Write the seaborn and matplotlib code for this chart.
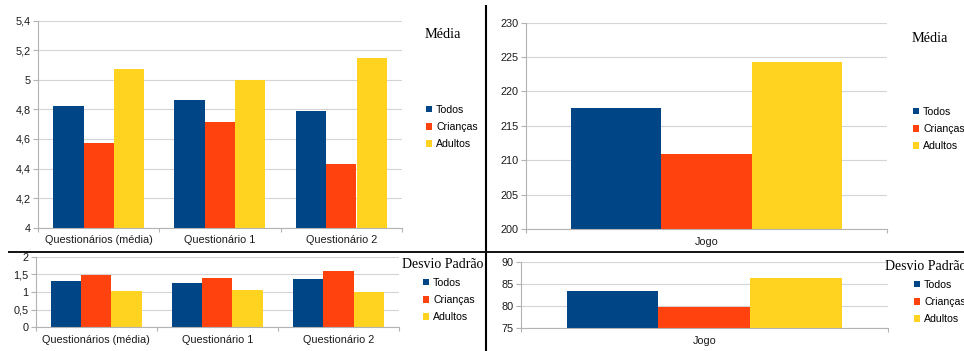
import matplotlib
matplotlib.use("Agg")
import matplotlib.pyplot as plt
import seaborn as sns
import pandas as pd
import numpy as np
from matplotlib.patches import Patch
from matplotlib.lines import Line2D

# ---------------- data ----------------
groups = ["Todos", "Crianças", "Adultos"]
group_colors = ["#004586", "#ff420e", "#ffd320"]

categories_q = ["Questionários (média)", "Questionário 1", "Questionário 2"]
media_q_todos = [4.825, 4.864, 4.789]
media_q_criancas = [4.575, 4.717, 4.433]
media_q_adultos = [5.073, 5.000, 5.146]
dp_q_todos = [1.31, 1.25, 1.38]
dp_q_criancas = [1.49, 1.39, 1.59]
dp_q_adultos = [1.03, 1.07, 0.99]

categories_j = ["Jogo"]
media_j_todos = [217.55]
media_j_criancas = [210.86]
media_j_adultos = [224.3]
dp_j_todos = [83.4]
dp_j_criancas = [79.86]
dp_j_adultos = [86.24]

yticks_media_q = [4.0, 4.2, 4.4, 4.6, 4.8, 5.0, 5.2, 5.4]
ylabels_media_q = ["4", "4,2", "4,4", "4,6", "4,8", "5", "5,2", "5,4"]
yticks_media_j = [200, 205, 210, 215, 220, 225, 230]
ylabels_media_j = ["200", "205", "210", "215", "220", "225", "230"]
yticks_dp_q = [0, 0.5, 1, 1.5, 2]
ylabels_dp_q = ["0", "0,5", "1", "1,5", "2"]
yticks_dp_j = [75, 80, 85, 90]
ylabels_dp_j = ["75", "80", "85", "90"]

title_media = "Média"
title_dp = "Desvio Padrão"

# ---------------- figure ----------------
W, H = 964, 351
plt.rcParams["font.family"] = ["Liberation Sans", "DejaVu Sans"]
fig = plt.figure(figsize=(W / 100, H / 100), dpi=100)
fig.patch.set_facecolor("white")


def fx(px):
    return px / W


def fy(py):
    return 1 - py / H


def make_df(cats, a, b, c):
    rows = []
    for g, vals in zip(groups, [a, b, c]):
        for cat, v in zip(cats, vals):
            rows.append({"cat": cat, "grupo": g, "valor": v})
    return pd.DataFrame(rows)


GRID = "#d4d4d4"
SPINE = "#b3b3b3"
FS = 7.8
LFS = 7.6


def panel(box, cats, a, b, c, yticks, ylabels):
    x0, y0, x1, y1 = box
    ax = fig.add_axes([fx(x0), fy(y1), fx(x1) - fx(x0), fy(y0) - fy(y1)])
    df = make_df(cats, a, b, c)
    sns.barplot(data=df, x="cat", y="valor", hue="grupo", hue_order=groups,
                order=cats, palette=group_colors, saturation=1, width=0.75,
                ax=ax, legend=False, linewidth=0)
    n = len(cats)
    ax.set_xlim(-0.5, n - 0.5)
    ax.set_ylim(yticks[0], yticks[-1])
    ax.set_yticks(yticks, ylabels)
    ax.set_xticks(range(n), cats)
    ax.set_xticks(np.arange(-0.5, n, 1.0), minor=True)
    ax.tick_params(axis="x", which="major", length=0, pad=5.5,
                   labelsize=FS, labelcolor="#1a1a1a")
    ax.tick_params(axis="x", which="minor", length=3.2, color=SPINE, width=0.8)
    ax.tick_params(axis="y", which="major", length=3.6, pad=1.5, color=SPINE,
                   width=0.8, labelsize=FS, labelcolor="#1a1a1a")
    ax.yaxis.grid(True, color=GRID, lw=0.8)
    ax.set_axisbelow(True)
    for s in ["top", "right"]:
        ax.spines[s].set_visible(False)
    for s in ["left", "bottom"]:
        ax.spines[s].set_color(SPINE)
        ax.spines[s].set_linewidth(0.8)
    ax.set_xlabel("")
    ax.set_ylabel("")
    return ax


def legend(ax, xpx, ypx):
    handles = [Patch(facecolor=c, edgecolor="none") for c in group_colors]
    ax.legend(handles, groups, loc="center left",
              bbox_to_anchor=(fx(xpx), fy(ypx)), bbox_transform=fig.transFigure,
              frameon=False, fontsize=LFS, handlelength=0.6, handleheight=0.6,
              handletextpad=0.35, labelspacing=0.68, borderpad=0,
              borderaxespad=0)


ax1 = panel((38, 20.7, 402, 227.7), categories_q, media_q_todos,
            media_q_criancas, media_q_adultos, yticks_media_q, ylabels_media_q)
legend(ax1, 426, 127)
fig.text(fx(425), fy(34), title_media, family="Liberation Serif", fontsize=10.3,
         ha="left", va="center")

ax2 = panel((526, 22.7, 887, 229), categories_j, media_j_todos,
            media_j_criancas, media_j_adultos, yticks_media_j, ylabels_media_j)
legend(ax2, 913, 129)
fig.text(fx(912), fy(38), title_media, family="Liberation Serif", fontsize=10.3,
         ha="left", va="center")

ax3 = panel((35.7, 256.7, 399, 327.3), categories_q, dp_q_todos,
            dp_q_criancas, dp_q_adultos, yticks_dp_q, ylabels_dp_q)
legend(ax3, 423, 300)
fig.text(fx(402), fy(265), title_dp, family="Liberation Serif", fontsize=10,
         ha="left", va="center")

ax4 = panel((520.7, 261.7, 888, 328.3), categories_j, dp_j_todos,
            dp_j_criancas, dp_j_adultos, yticks_dp_j, ylabels_dp_j)
legend(ax4, 914, 302)
fig.text(fx(885), fy(267), title_dp, family="Liberation Serif", fontsize=10,
         ha="left", va="center")

# divider lines
fig.add_artist(Line2D([fx(485.5), fx(485.5)], [fy(5), fy(351)], color="black",
                      lw=1.5, solid_capstyle="butt"))
fig.add_artist(Line2D([fx(8), fx(964)], [fy(251.5), fy(251.5)], color="#111111",
                      lw=1.4, solid_capstyle="butt"))

fig.savefig("out.png", dpi=100, facecolor="white")
